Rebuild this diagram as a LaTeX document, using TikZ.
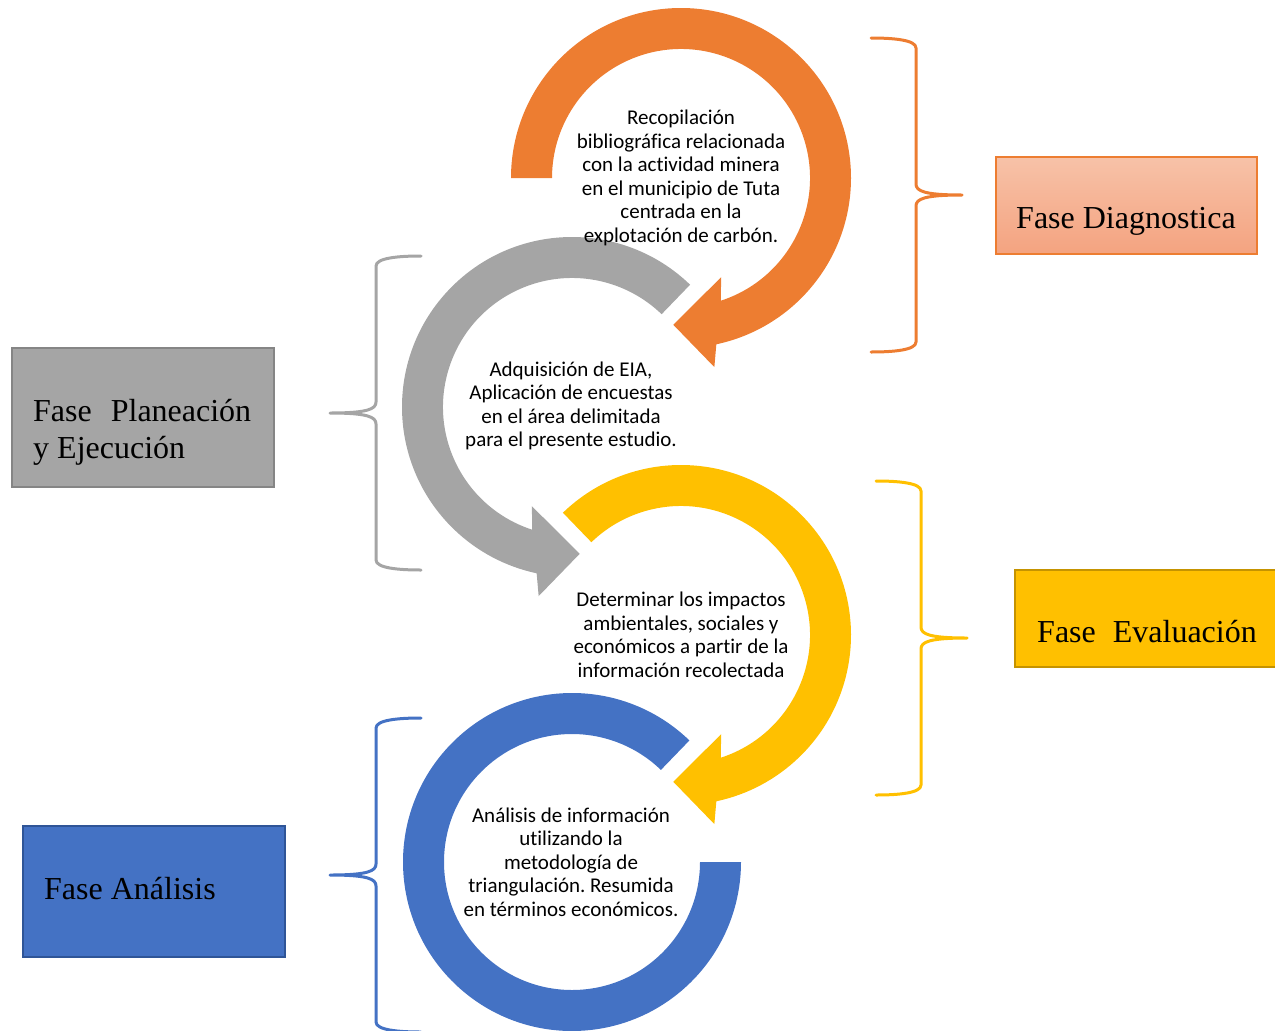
\documentclass[tikz,border=0pt]{standalone}
\usepackage{fontspec}
\setmainfont{Liberation Serif}
\newfontfamily\ringfont[Ligatures=NoCommon]{Carlito}
\frenchspacing

\definecolor{accOrange}{HTML}{ED7D31}
\definecolor{accGray}{HTML}{A5A5A5}
\definecolor{accGold}{HTML}{FFC000}
\definecolor{accBlue}{HTML}{4472C4}
\definecolor{edgeGray}{HTML}{858585}
\definecolor{edgeGold}{HTML}{C59300}
\definecolor{edgeBlue}{HTML}{2F5597}
\definecolor{salmonTop}{RGB}{247,194,168}
\definecolor{salmonBot}{RGB}{244,163,128}

\tikzset{
  ringtext/.style={font=\ringfont\fontsize{21}{23.5}\selectfont, align=center, inner sep=0pt, text=black},
  phasetext/.style={font=\fontsize{32}{37}\selectfont, inner sep=0pt, anchor=base west, text=black},
  phasebox/.style={rectangle, inner sep=0pt, line width=1.6pt},
  % curly brace with its point at the origin, opening to the left
  pics/curly/.style={code={
    \draw[color=#1, line width=3pt, line cap=round, line join=round]
      (-91,157) .. controls (-68,157) and (-46,155) .. (-46,147)
      -- (-46,11) .. controls (-46,4) and (-38,0) .. (0,0)
      .. controls (-38,0) and (-46,-4) .. (-46,-11)
      -- (-46,-147) .. controls (-46,-155) and (-68,-157) .. (-91,-157);
  }}
}

\begin{document}
\begin{tikzpicture}[x=1pt, y=1pt]
\useasboundingbox (0,0) rectangle (1275,-1031);
\clip (0,0) rectangle (1275,-1031);

% orange ring arrow
\begin{scope}[shift={(681,-178)}]
  \fill[accOrange] (180:129pt) -- (180:170pt)
    arc[start angle=180, end angle=-78, radius=170pt]
    -- (-80:192pt) -- (-93:147pt) -- (-68:107pt) -- (-72:129pt)
    arc[start angle=-72, end angle=180, radius=129pt] -- cycle;
\end{scope}

% gray ring arrow
\begin{scope}[shift={(572,-407)}]
  \fill[accGray] (46:129pt) -- (46:170pt)
    arc[start angle=46, end angle=258, radius=170pt]
    -- (260:192pt) -- (273:147pt) -- (248:107pt) -- (252:129pt)
    arc[start angle=252, end angle=46, radius=129pt] -- cycle;
\end{scope}

% gold ring arrow
\begin{scope}[shift={(681,-635)}]
  \fill[accGold] (134:129pt) -- (134:170pt)
    arc[start angle=134, end angle=-78, radius=170pt]
    -- (-80:192pt) -- (-93:147pt) -- (-68:107pt) -- (-72:129pt)
    arc[start angle=-72, end angle=134, radius=129pt] -- cycle;
\end{scope}

% blue ring
\begin{scope}[shift={(572,-862)}]
  \fill[accBlue] (46:129pt) -- (46:169pt)
    arc[start angle=46, end angle=360, radius=169pt]
    -- (0:128pt)
    arc[start angle=360, end angle=46, radius=128pt] -- cycle;
\end{scope}

% texts inside the rings
\node[ringtext] (step1) at (681,-178) {Recopilación\\bibliográfica relacionada\\con la actividad minera\\en el municipio de Tuta\\centrada en la\\explotación de carbón.};
\node[ringtext] (step2) at (571,-406) {Adquisición de EIA,\\Aplicación de encuestas\\en el área delimitada\\para el presente estudio.};
\node[ringtext] (step3) at (681,-635) {Determinar los impactos\\ambientales, sociales y\\económicos a partir de la\\información recolectada};
\node[ringtext] (step4) at (571,-862) {Análisis de información\\utilizando la\\metodología de\\triangulación. Resumida\\en términos económicos.};

% braces grouping the steps
\pic at (962,-195) {curly=accOrange};
\pic[xscale=-1] at (330,-413) {curly=accGray};
\pic at (967,-638) {curly=accGold};
\pic[xscale=-1] at (330,-875) {curly=accBlue};

% phase boxes
\node[phasebox, draw=accOrange, line width=1.2pt, top color=salmonTop, bottom color=salmonBot,
      minimum width=261pt, minimum height=97pt] (diag) at (1126.5,-205.5) {};
\node[phasetext] (diaglabel) at (1016,-228) {Fase Diagnostica};

\node[phasebox, draw=edgeGray, fill=accGray, minimum width=262pt, minimum height=139pt] (plan) at (143,-417.5) {};
\node[phasetext] (planlabel1) at (33,-421) {Fase\hspace{19pt}Planeación};
\node[phasetext] (planlabel2) at (33,-458) {y Ejecución};

\node[phasebox, draw=edgeGold, fill=accGold, minimum width=300pt, minimum height=97pt] (eval) at (1165,-618.5) {};
\node[phasetext] (evallabel) at (1037,-642) {Fase\hspace{17pt}Evaluación};

\node[phasebox, draw=edgeBlue, fill=accBlue, minimum width=262pt, minimum height=131pt] (anal) at (154,-891.5) {};
\node[phasetext] (anallabel) at (44,-899) {Fase Análisis};
\end{tikzpicture}
\end{document}
